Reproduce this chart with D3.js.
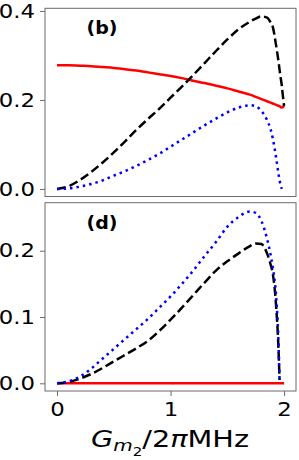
<!DOCTYPE html>
<html>
<head>
<meta charset="utf-8">
<script src="https://cdn.jsdelivr.net/npm/d3@7"></script>
<style>
  body { margin: 0; background: #fff; }
  text { font-family: "DejaVu Sans", sans-serif; }
</style>
</head>
<body>
<script>
// x grid shared by every curve (denser near the drop at G=2)
var gVals = [0, 0.1, 0.2, 0.3, 0.4, 0.5, 0.6, 0.7, 0.8, 0.9, 1.0, 1.1, 1.2, 1.3, 1.4, 1.5, 1.6, 1.7,
             1.75, 1.8, 1.85, 1.88, 1.9, 1.93, 1.95, 1.96, 1.97, 1.98, 1.99, 2.0];

// panel (b)
var bRed   = [0.278, 0.278, 0.277, 0.276, 0.274, 0.272, 0.269, 0.266, 0.262, 0.258, 0.254, 0.249, 0.243, 0.238, 0.232, 0.226, 0.219, 0.212,
              0.207, 0.202, 0.197, 0.194, 0.192, 0.189, 0.187, 0.186, 0.184, 0.183, 0.184, 0.188];
var bBlack = [0, 0.006, 0.020, 0.038, 0.059, 0.082, 0.107, 0.133, 0.157, 0.180, 0.205, 0.230, 0.256, 0.283, 0.310, 0.336, 0.359, 0.376,
              0.383, 0.388, 0.385, 0.375, 0.365, 0.322, 0.288, 0.268, 0.250, 0.232, 0.208, 0.187];
var bBlue  = [0, 0.001, 0.005, 0.011, 0.019, 0.030, 0.040, 0.052, 0.065, 0.079, 0.095, 0.111, 0.127, 0.143, 0.158, 0.172, 0.183, 0.188,
              0.186, 0.175, 0.155, 0.135, 0.114, 0.070, 0.035, 0.020, 0.008, 0.000, null, null];

// panel (d)
var dRed   = [0, 0, 0, 0, 0, 0, 0, 0, 0, 0, 0, 0, 0, 0, 0, 0, 0, 0,
              0, 0, 0, 0, 0, 0, 0, 0, 0, 0, 0, 0];
var dBlack = [0, 0.002, 0.007, 0.014, 0.023, 0.033, 0.043, 0.053, 0.064, 0.079, 0.096, 0.114, 0.133, 0.152, 0.170, 0.184, 0.196, 0.207,
              0.211, 0.210, 0.196, 0.180, 0.166, 0.116, 0.055, 0.005, null, null, null, null];
var dBlue  = [0, 0.003, 0.010, 0.022, 0.037, 0.052, 0.067, 0.082, 0.097, 0.114, 0.131, 0.150, 0.170, 0.192, 0.213, 0.236, 0.251, 0.259,
              0.257, 0.245, 0.218, 0.195, 0.175, 0.131, 0.065, 0.005, null, null, null, null];

var yTicksB = [0, 0.2, 0.4];
var yTicksD = [0, 0.1, 0.2];
var xTicks = [0, 1, 2];

var svgWidth = 299;
var svgHeight = 460;
var stretch = 1.2;   // the source picture is a bit wider than tall, so text is stretched

var svg = d3.select("body")
    .append("svg")
    .attr("width", svgWidth)
    .attr("height", svgHeight);

var left = 45, right = 296;

var xScale = d3.scaleLinear()
    .domain([-0.106, 2.105])
    .range([left, right]);

var panels = [
  { top: 8.3, bottom: 196.5, domain: [-0.017, 0.406], ticks: yTicksB, label: "(b)",
    series: [{ v: bRed, c: "#ff0000", dash: null },
             { v: bBlack, c: "#000000", dash: "9,4" },
             { v: bBlue, c: "#0000ff", dash: "2.5,4" }] },
  { top: 202.7, bottom: 391, domain: [-0.0116, 0.2724], ticks: yTicksD, label: "(d)",
    series: [{ v: dRed, c: "#ff0000", dash: null },
             { v: dBlack, c: "#000000", dash: "9,4" },
             { v: dBlue, c: "#0000ff", dash: "2.5,4" }] }
];

panels.forEach(function(p, i) {
  var yScale = d3.scaleLinear()
      .domain(p.domain)
      .range([p.bottom, p.top]);

  var g = svg.append("g");

  var clipId = "clip" + i;
  g.append("clipPath").attr("id", clipId)
    .append("rect")
    .attr("x", left).attr("y", p.top)
    .attr("width", right - left).attr("height", p.bottom - p.top);

  var line = d3.line()
      .defined(function(d) { return d[1] !== null; })
      .x(function(d) { return xScale(d[0]); })
      .y(function(d) { return yScale(d[1]); })
      .curve(d3.curveMonotoneX);

  p.series.forEach(function(s) {
    var pts = gVals.map(function(x, k) { return [x, s.v[k]]; });
    g.append("path")
      .datum(pts)
      .attr("clip-path", "url(#" + clipId + ")")
      .attr("fill", "none")
      .attr("stroke", s.c)
      .attr("stroke-width", 2.5)
      .attr("stroke-dasharray", s.dash)
      .attr("d", line);
  });

  // frame
  g.append("rect")
    .attr("x", left).attr("y", p.top)
    .attr("width", right - left).attr("height", p.bottom - p.top)
    .attr("fill", "none")
    .attr("stroke", "#6b6b6b")
    .attr("stroke-width", 1);

  var leftAxis = d3.axisLeft(yScale)
      .tickValues(p.ticks)
      .tickFormat(d3.format(".1f"))
      .tickSize(5)
      .tickPadding(4);

  var ya = g.append("g")
    .attr("transform", "translate(" + left + ",0)")
    .call(leftAxis);
  ya.select(".domain").remove();
  ya.selectAll("line").attr("stroke", "#6b6b6b");
  ya.selectAll("text")
    .style("font-size", "19px")
    .attr("fill", "#000")
    .attr("x", 0)
    .attr("transform", "translate(-10,0) scale(" + stretch + ",1)");

  g.append("text")
    .attr("text-anchor", "middle")
    .attr("transform", "translate(102," + (p.top + 26) + ") scale(1.12,1)")
    .style("font-size", "17px")
    .style("font-weight", "bold")
    .text(p.label);

  if (i === 1) {
    var bottomAxis = d3.axisBottom(xScale)
        .tickValues(xTicks)
        .tickFormat(d3.format("d"))
        .tickSize(5)
        .tickPadding(7);
    var xa = g.append("g")
      .attr("transform", "translate(0," + p.bottom + ")")
      .call(bottomAxis);
    xa.select(".domain").remove();
    xa.selectAll("line").attr("stroke", "#6b6b6b");
    xa.selectAll("text")
      .style("font-size", "19px")
      .attr("fill", "#000")
      .attr("transform", "scale(" + stretch + ",1)");
  }
});

// x axis label: G_{m_2}/2\pi MHz
var xl = svg.append("text")
  .attr("text-anchor", "middle")
  .attr("transform", "translate(170,447) scale(1.25,1)")
  .style("font-size", "23px");
xl.append("tspan").style("font-style", "italic").text("G");
xl.append("tspan").style("font-style", "italic").style("font-size", "16px").attr("dy", 4).text("m");
xl.append("tspan").style("font-size", "12px").attr("dy", 5).text("2");
xl.append("tspan").attr("dy", -9).text("/2");
xl.append("tspan").style("font-style", "italic").text("π");
xl.append("tspan").text("MHz");
</script>
</body>
</html>
